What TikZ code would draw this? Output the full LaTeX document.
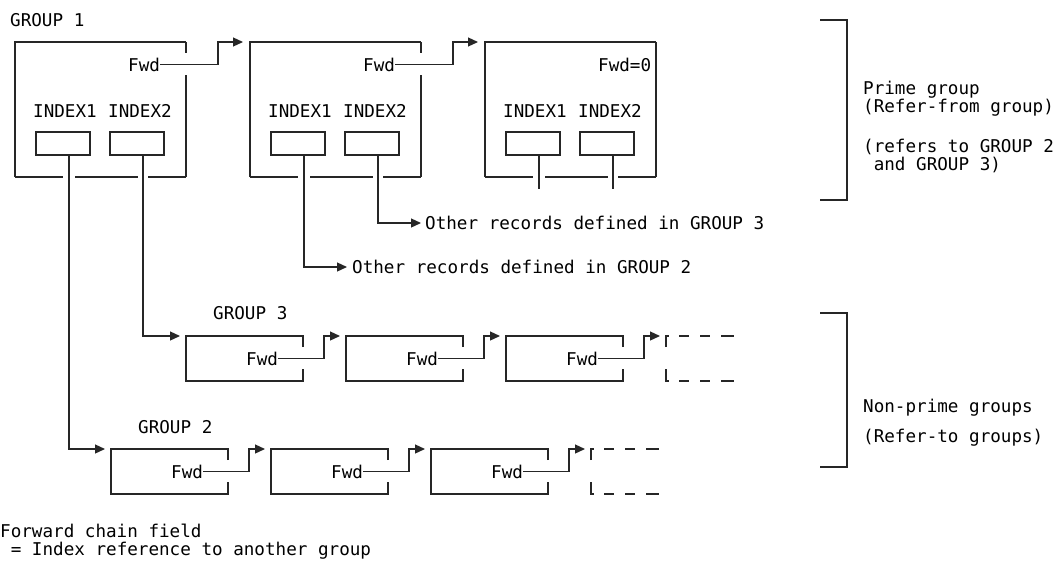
\documentclass[tikz,border=0pt]{standalone}
\usepackage{fontspec}
\newfontfamily\mono{DejaVu Sans Mono}
\usetikzlibrary{arrows.meta}
\begin{document}
\begin{tikzpicture}[x=1pt,y=-1pt,
  ln/.style={line width=1.2pt, draw=black!85},
  arr/.style={ln, -{Triangle[length=10pt,width=9pt]}},
  lbl/.style={font=\mono\fontsize{17.6}{20}\selectfont, inner sep=0pt, anchor=base west, text=black},
  ibox/.style={ln, rectangle, minimum width=54pt, minimum height=23pt, inner sep=0pt}]
\useasboundingbox (0,0) rectangle (1058,571);

% ---------- prime group (top row) ----------
\node[lbl] (g1lbl) at (10,26.4) {GROUP 1};
\foreach \o/\n in {0/1,235/2,470/3} {
  \node[ibox] (ia\n) at (63+\o,143.5) {};
  \node[ibox] (ib\n) at (137+\o,143.5) {};
  \node[lbl] (ta\n) at (33+\o,117.4) {INDEX1};
  \node[lbl] (tb\n) at (108+\o,117.4) {INDEX2};
  \coordinate (sa\n) at (69+\o,155);
  \coordinate (sb\n) at (143+\o,155);
  \draw[ln] (15+\o,177) -- (63+\o,177) (75+\o,177) -- (138+\o,177) (148+\o,177) -- (186+\o,177);
  \draw[ln] (15+\o,177) -- (15+\o,42) -- (186+\o,42);
}
\foreach \o in {0,235} {
  \draw[ln] (186+\o,42) -- (186+\o,53);
  \draw[ln] (186+\o,75) -- (186+\o,177);
}
\draw[ln] (656,42) -- (656,177);

\node[lbl] (f1) at (128,71.4) {Fwd};
\node[lbl] (f2) at (363,71.4) {Fwd};
\node[lbl] (f3) at (598,71.4) {Fwd=0};
\coordinate (j1) at (218,42); \coordinate (e2) at (243,42);
\coordinate (j2) at (453,42); \coordinate (e3) at (478,42);
\draw[arr] (f1.east) -| (j1) -- (e2);
\draw[arr] (f2.east) -| (j2) -- (e3);

% stubs of the last prime record
\coordinate (sa3e) at (539,189); \coordinate (sb3e) at (613,189);
\draw[ln] (sa3) -- (sa3e);
\draw[ln] (sb3) -- (sb3e);

% other records
\coordinate (o3) at (421,223);
\coordinate (o2) at (347,267);
\draw[arr] (sb2) |- (o3);
\draw[arr] (sa2) |- (o2);
\node[lbl] (oth3) at (425,229.4) {Other records defined in GROUP 3};
\node[lbl] (oth2) at (352,273.4) {Other records defined in GROUP 2};

% ---------- non-prime groups ----------
\coordinate (r3in) at (180,336);
\coordinate (r2in) at (105,449);
\draw[arr] (sb1) |- (r3in);
\draw[arr] (sa1) |- (r2in);
\node[lbl] (g3lbl) at (213,319.4) {GROUP 3};
\node[lbl] (g2lbl) at (138,433.4) {GROUP 2};

\foreach \T/\r/\Lz in {336/c/186,449/b/111} {
  \foreach \k in {0,1,2} {
    \pgfmathsetmacro{\L}{\Lz+160*\k}
    \draw[ln] (\L+117,\T+11) -- (\L+117,\T) -- (\L,\T) -- (\L,\T+45) -- (\L+117,\T+45) -- (\L+117,\T+33);
    \node[lbl] (fw\r\k) at (\L+60,\T+29.4) {Fwd};
    \coordinate (jn\r\k) at (\L+138,\T);
    \coordinate (in\r\k) at (\L+154,\T);
    \draw[arr] (fw\r\k.east) -| (jn\r\k) -- (in\r\k);
  }
  \pgfmathsetmacro{\D}{\Lz+480}
  \draw[ln] (\D,\T+11) -- (\D,\T) -- (\D+3,\T);
  \draw[ln] (\D,\T+33) -- (\D,\T+45) -- (\D+3,\T+45);
  \draw[ln] (\D+13,\T) -- (\D+23,\T) (\D+34,\T) -- (\D+44,\T) (\D+55,\T) -- (\D+68,\T);
  \draw[ln] (\D+13,\T+45) -- (\D+23,\T+45) (\D+34,\T+45) -- (\D+44,\T+45) (\D+55,\T+45) -- (\D+68,\T+45);
}

% ---------- brackets ----------
\draw[ln] (820,20) -- (847,20) -- (847,200) -- (820,200);
\draw[ln] (820,313) -- (847,313) -- (847,467) -- (820,467);
\node[lbl] (p1) at (863,94.4) {Prime group};
\node[lbl] (p2) at (863,112.4) {(Refer-from group)};
\node[lbl] (p3) at (863,152.4) {(refers to GROUP 2};
\node[lbl] (p4) at (873.6,170.4) {and GROUP 3)};
\node[lbl] (n1) at (863,412.4) {Non-prime groups};
\node[lbl] (n2) at (863,442.4) {(Refer-to groups)};

% ---------- legend ----------
\node[lbl] (lg1) at (0,537.4) {Forward chain field};
\node[lbl] (lg2) at (10.6,555.4) {= Index reference to another group};
\end{tikzpicture}
\end{document}
